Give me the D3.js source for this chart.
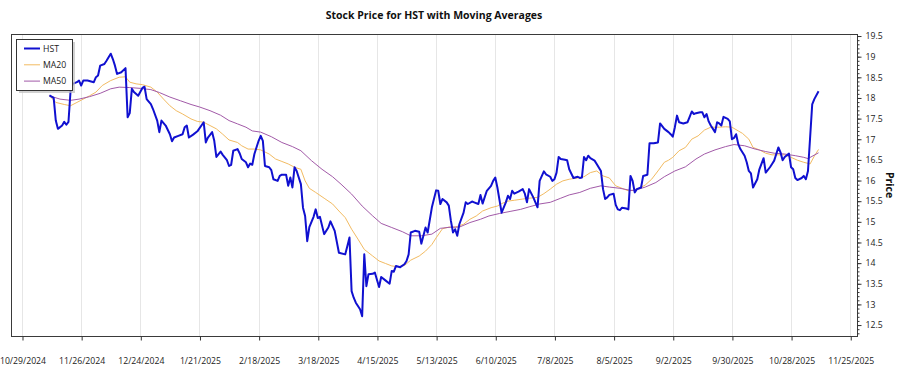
<!DOCTYPE html>
<html>
<head>
<meta charset="utf-8">
<script src="https://cdn.jsdelivr.net/npm/d3@7"></script>
<style>
  html, body { margin: 0; padding: 0; background: #fff; }
  svg { display: block; font-family: "Open Sans", "Noto Sans", sans-serif; }
</style>
</head>
<body>
<svg id="chart" width="900" height="375"></svg>
<script>
// ---- data (day offsets from base date, price) ----
const baseDateStr = "2024-10-29";
const seriesNames = ["HST", "MA20", "MA50"];
const hst = [[13,18.05],[15,17.99],[16,17.44],[17,17.24],[19,17.32],[20,17.41],[21,17.34],[22,17.41],[23,18.17],[24,18.33],[26,18.37],[27,18.41],[28,18.29],[29,18.41],[31,18.41],[34,18.37],[35,18.49],[36,18.53],[37,18.77],[39,18.81],[40,18.89],[42,19.06],[43,18.93],[44,18.77],[45,18.57],[47,18.61],[49,18.71],[50,17.52],[51,17.62],[52,18.21],[53,18.13],[55,18.04],[57,18.23],[58,18.26],[59,17.96],[61,17.84],[62,17.72],[64,17.44],[65,17.16],[66,17.44],[68,17.32],[70,17.11],[71,16.94],[72,17.03],[74,17.07],[76,17.11],[77,17.28],[78,17.32],[79,17.03],[81,17.10],[83,17.18],[86,17.40],[87,16.91],[88,17.03],[90,17.16],[91,16.95],[92,16.56],[94,16.69],[95,16.61],[97,16.48],[98,16.34],[99,16.37],[100,16.71],[102,16.75],[103,16.65],[104,16.51],[106,16.43],[107,16.31],[108,16.40],[109,16.37],[110,16.63],[112,16.95],[113,17.07],[114,16.95],[115,16.34],[117,16.31],[118,16.24],[119,16.02],[121,15.98],[122,16.10],[123,16.13],[125,16.13],[126,15.86],[127,16.06],[128,15.82],[129,16.31],[130,16.22],[132,15.90],[133,15.33],[134,15.13],[135,14.52],[136,14.86],[138,15.11],[139,15.29],[140,15.08],[141,15.11],[143,14.69],[145,14.85],[146,15.00],[148,14.77],[150,14.24],[153,14.20],[154,14.40],[155,14.61],[156,13.31],[157,13.15],[158,13.03],[160,12.87],[161,12.70],[162,14.20],[163,13.43],[164,13.72],[166,13.73],[167,13.76],[169,13.41],[170,13.65],[172,13.57],[174,13.49],[175,13.80],[176,13.78],[177,13.92],[179,13.89],[181,13.96],[182,14.04],[183,14.20],[184,14.73],[186,14.77],[188,14.75],[189,14.46],[191,14.85],[192,14.73],[194,15.34],[196,15.75],[197,15.74],[198,15.42],[199,15.54],[201,15.46],[202,15.38],[203,15.01],[204,14.73],[205,14.81],[206,14.65],[207,14.93],[209,15.21],[210,15.46],[211,15.42],[213,15.48],[214,15.46],[216,15.42],[217,15.64],[218,15.43],[220,15.74],[222,15.86],[223,15.98],[224,16.06],[225,15.82],[227,15.21],[229,15.46],[230,15.62],[231,15.54],[232,15.74],[233,15.67],[235,15.72],[237,15.78],[238,15.67],[239,15.46],[240,15.78],[242,15.58],[244,15.34],[245,15.98],[247,16.21],[248,16.14],[250,16.08],[251,15.98],[252,16.02],[253,16.18],[254,16.56],[255,16.51],[257,16.49],[258,16.48],[259,16.26],[261,16.05],[263,16.08],[264,16.05],[265,16.06],[266,16.56],[267,16.48],[268,16.59],[269,16.53],[271,16.47],[272,16.39],[274,16.22],[275,15.78],[276,15.54],[277,15.58],[278,15.64],[280,15.67],[281,15.40],[282,15.29],[283,15.27],[284,15.33],[286,15.31],[287,15.29],[288,16.10],[289,15.98],[290,15.70],[291,15.78],[293,15.82],[294,16.10],[296,16.13],[297,16.89],[299,16.89],[301,16.91],[302,17.37],[304,17.24],[306,17.16],[307,17.11],[308,17.05],[309,17.28],[310,17.56],[311,17.40],[313,17.37],[315,17.40],[316,17.53],[317,17.66],[318,17.60],[319,17.62],[321,17.64],[322,17.64],[323,17.52],[324,17.60],[325,17.42],[326,17.32],[328,17.16],[329,17.40],[330,17.37],[331,17.32],[332,17.53],[334,17.48],[335,17.42],[336,16.99],[337,17.02],[338,17.11],[339,16.87],[340,16.75],[342,16.59],[343,16.43],[344,16.22],[345,16.16],[346,15.82],[348,16.02],[349,16.26],[351,16.53],[352,16.18],[354,16.31],[355,16.39],[356,16.47],[357,16.63],[358,16.79],[359,16.67],[360,16.48],[361,16.56],[363,16.64],[364,16.31],[365,16.26],[366,16.05],[367,16.00],[369,16.05],[370,16.10],[371,16.02],[372,16.22],[374,17.83],[375,17.96],[377,18.15]];
const ma20 = [[13,18.04],[16,17.88],[20,17.83],[23,17.80],[26,17.88],[29,17.96],[32,18.04],[35,18.13],[38,18.29],[42,18.41],[46,18.49],[49,18.50],[51,18.37],[54,18.33],[57,18.31],[61,18.25],[64,18.13],[67,17.96],[70,17.80],[73,17.68],[76,17.60],[80,17.48],[83,17.42],[86,17.40],[89,17.32],[92,17.24],[95,17.11],[98,16.97],[102,16.91],[104,16.83],[107,16.75],[110,16.75],[113,16.73],[117,16.63],[120,16.51],[123,16.45],[126,16.39],[129,16.31],[132,16.26],[134,15.98],[136,15.80],[139,15.70],[143,15.56],[147,15.42],[150,15.25],[153,15.09],[156,14.81],[159,14.57],[162,14.32],[166,14.16],[169,14.04],[172,13.98],[175,13.92],[178,13.90],[181,13.93],[184,14.06],[188,14.16],[191,14.28],[194,14.44],[196,14.60],[199,14.82],[202,14.86],[205,14.86],[209,14.93],[212,15.05],[215,15.13],[218,15.25],[222,15.33],[225,15.37],[227,15.43],[230,15.49],[233,15.51],[237,15.54],[240,15.56],[244,15.58],[247,15.67],[250,15.78],[253,15.90],[256,15.98],[259,16.02],[263,16.05],[266,16.08],[269,16.18],[272,16.22],[275,16.10],[278,16.05],[281,15.86],[285,15.78],[287,15.74],[289,15.75],[292,15.80],[295,15.88],[298,16.02],[301,16.22],[304,16.43],[306,16.48],[308,16.55],[311,16.71],[314,16.79],[317,16.99],[320,17.07],[323,17.21],[326,17.28],[330,17.28],[333,17.29],[336,17.28],[339,17.19],[341,17.13],[344,16.99],[346,16.79],[349,16.73],[352,16.65],[355,16.61],[358,16.61],[361,16.61],[364,16.55],[367,16.48],[370,16.43],[373,16.39],[375,16.58],[377,16.74]];
const ma50 = [[13,18.04],[18,17.96],[23,17.93],[27,17.96],[32,18.02],[37,18.10],[42,18.21],[46,18.25],[51,18.24],[56,18.22],[61,18.19],[65,18.12],[70,18.01],[75,17.92],[80,17.83],[84,17.77],[89,17.68],[94,17.57],[98,17.44],[102,17.36],[106,17.28],[109,17.19],[113,17.16],[118,17.05],[123,16.91],[128,16.81],[132,16.71],[137,16.47],[142,16.26],[147,16.08],[151,15.90],[156,15.66],[161,15.37],[166,15.13],[170,14.95],[175,14.85],[180,14.75],[184,14.65],[189,14.65],[194,14.69],[198,14.83],[203,14.86],[207,14.86],[212,14.97],[217,15.05],[221,15.13],[226,15.19],[231,15.24],[236,15.29],[240,15.35],[245,15.42],[250,15.46],[255,15.56],[259,15.64],[264,15.70],[269,15.80],[274,15.86],[278,15.83],[283,15.80],[288,15.75],[290,15.75],[295,15.83],[300,15.94],[304,16.08],[309,16.22],[314,16.32],[319,16.51],[323,16.63],[328,16.73],[333,16.81],[337,16.86],[342,16.83],[347,16.75],[352,16.69],[356,16.65],[361,16.63],[366,16.59],[370,16.55],[372,16.52],[377,16.66]];
const xTickDays = [0,28,56,84,112,140,168,196,224,252,280,308,336,364,392];
const yTickValues = [12.5,13,13.5,14,14.5,15,15.5,16,16.5,17,17.5,18,18.5,19,19.5];
const seriesColors = ["#1010d0", "#f2bb62", "#a25aa8"];
const seriesWidths = [2, 1, 1];

// ---- layout ----
const svg = d3.select("#chart");
const plot = { left: 11, top: 34, right: 857, bottom: 336 };
const smallFont = 8.7;
const baseDate = d3.timeParse("%Y-%m-%d")(baseDateStr);
const toDate = d => d3.timeDay.offset(baseDate, d);

const allDays = hst.map(d => d[0]);
const dMin = d3.min(allDays), dMax = d3.max(allDays);
const xPad = (dMax - dMin) * 0.05;
const x = d3.scaleTime()
  .domain([new Date(+toDate(0) + (dMin - xPad) * 864e5), new Date(+toDate(0) + (dMax + xPad) * 864e5)])
  .range([plot.left, plot.right]);

const vMin = d3.min(hst, d => d[1]), vMax = d3.max(hst, d => d[1]);
const yPad = (vMax - vMin) * 0.075;
const y = d3.scaleLinear().domain([vMin - yPad, vMax + yPad]).range([plot.bottom, plot.top]);

// gridlines (vertical)
const xTicks = xTickDays.map(toDate);
svg.append("g").selectAll("line").data(xTicks.filter(t => x(t) > plot.left && x(t) < plot.right))
  .join("line")
  .attr("x1", d => Math.round(x(d)) + 0.5).attr("x2", d => Math.round(x(d)) + 0.5)
  .attr("y1", plot.top).attr("y2", plot.bottom)
  .attr("stroke", "#e6e6e6").attr("stroke-width", 1);

// clip
svg.append("clipPath").attr("id", "clip").append("rect")
  .attr("x", plot.left).attr("y", plot.top)
  .attr("width", plot.right - plot.left).attr("height", plot.bottom - plot.top);

const line = d3.line().x(d => x(toDate(d[0]))).y(d => y(d[1]));
const g = svg.append("g").attr("clip-path", "url(#clip)");
[ma20, ma50, hst].forEach((s, i) => {
  const idx = [1, 2, 0][i];
  g.append("path").datum(s)
    .attr("fill", "none")
    .attr("stroke", seriesColors[idx])
    .attr("stroke-width", seriesWidths[idx])
    .attr("stroke-linejoin", "round")
    .attr("d", line);
});

// frame
svg.append("rect")
  .attr("x", plot.left + 0.5).attr("y", plot.top + 0.5)
  .attr("width", plot.right - plot.left).attr("height", plot.bottom - plot.top)
  .attr("fill", "none").attr("stroke", "#3a3a3a").attr("stroke-width", 1);

// x axis
const xAxis = d3.axisBottom(x).tickValues(xTicks).tickSize(4).tickPadding(17)
  .tickFormat(d3.timeFormat("%-m/%-d/%Y"));
const gx = svg.append("g").attr("transform", `translate(0.5,${plot.bottom + 0.5})`).call(xAxis);
gx.select(".domain").remove();
gx.selectAll(".tick line").attr("stroke", "#333");
gx.selectAll(".tick text").attr("font-size", smallFont).attr("fill", "#222")
  .attr("font-family", "'Open Sans', 'Noto Sans', sans-serif");

// y axis (right)
const minorTicks = d3.range(Math.ceil(y.domain()[0] * 10), Math.floor(y.domain()[1] * 10) + 1).map(v => v / 10);
const gyMinor = svg.append("g").attr("transform", `translate(${plot.right + 0.5},0.5)`);
gyMinor.call(d3.axisRight(y).tickValues(minorTicks).tickSize(2).tickFormat(""));
gyMinor.select(".domain").remove();
gyMinor.selectAll(".tick line").attr("stroke", "#333");

const gy = svg.append("g").attr("transform", `translate(${plot.right + 0.5},0.5)`)
  .call(d3.axisRight(y).tickValues(yTickValues).tickSize(4).tickPadding(4).tickFormat(d3.format("")));
gy.select(".domain").remove();
gy.selectAll(".tick line").attr("stroke", "#333");
gy.selectAll(".tick text").attr("font-size", smallFont).attr("fill", "#222")
  .attr("font-family", "'Open Sans', 'Noto Sans', sans-serif");

// y title
svg.append("text")
  .attr("transform", `translate(886,${(plot.top + plot.bottom) / 2}) rotate(90)`)
  .attr("text-anchor", "middle")
  .attr("font-size", 10.5).attr("font-weight", "bold").attr("fill", "#111")
  .text("Price");

// title
svg.append("text")
  .attr("x", (plot.left + plot.right) / 2).attr("y", 18.5)
  .attr("text-anchor", "middle")
  .attr("font-size", 10.5).attr("font-weight", "bold").attr("fill", "#111")
  .text("Stock Price for HST with Moving Averages");

// legend
const lg = svg.append("g");
lg.append("rect").attr("x", 19).attr("y", 42).attr("width", 56).attr("height", 51).attr("fill", "#bdbdbd").attr("opacity", 0.7);
lg.append("rect").attr("x", 16.5).attr("y", 39.5).attr("width", 56).attr("height", 51)
  .attr("fill", "#fff").attr("stroke", "#333").attr("stroke-width", 1);
seriesNames.forEach((name, i) => {
  const yy = 48.5 + i * 16.3;
  lg.append("line").attr("x1", 24).attr("x2", 40).attr("y1", yy).attr("y2", yy)
    .attr("stroke", seriesColors[i]).attr("stroke-width", seriesWidths[i]);
  lg.append("text").attr("x", 43).attr("y", yy).attr("dy", "0.35em")
    .attr("font-size", smallFont).attr("fill", "#222").text(name);
});
</script>
</body>
</html>
